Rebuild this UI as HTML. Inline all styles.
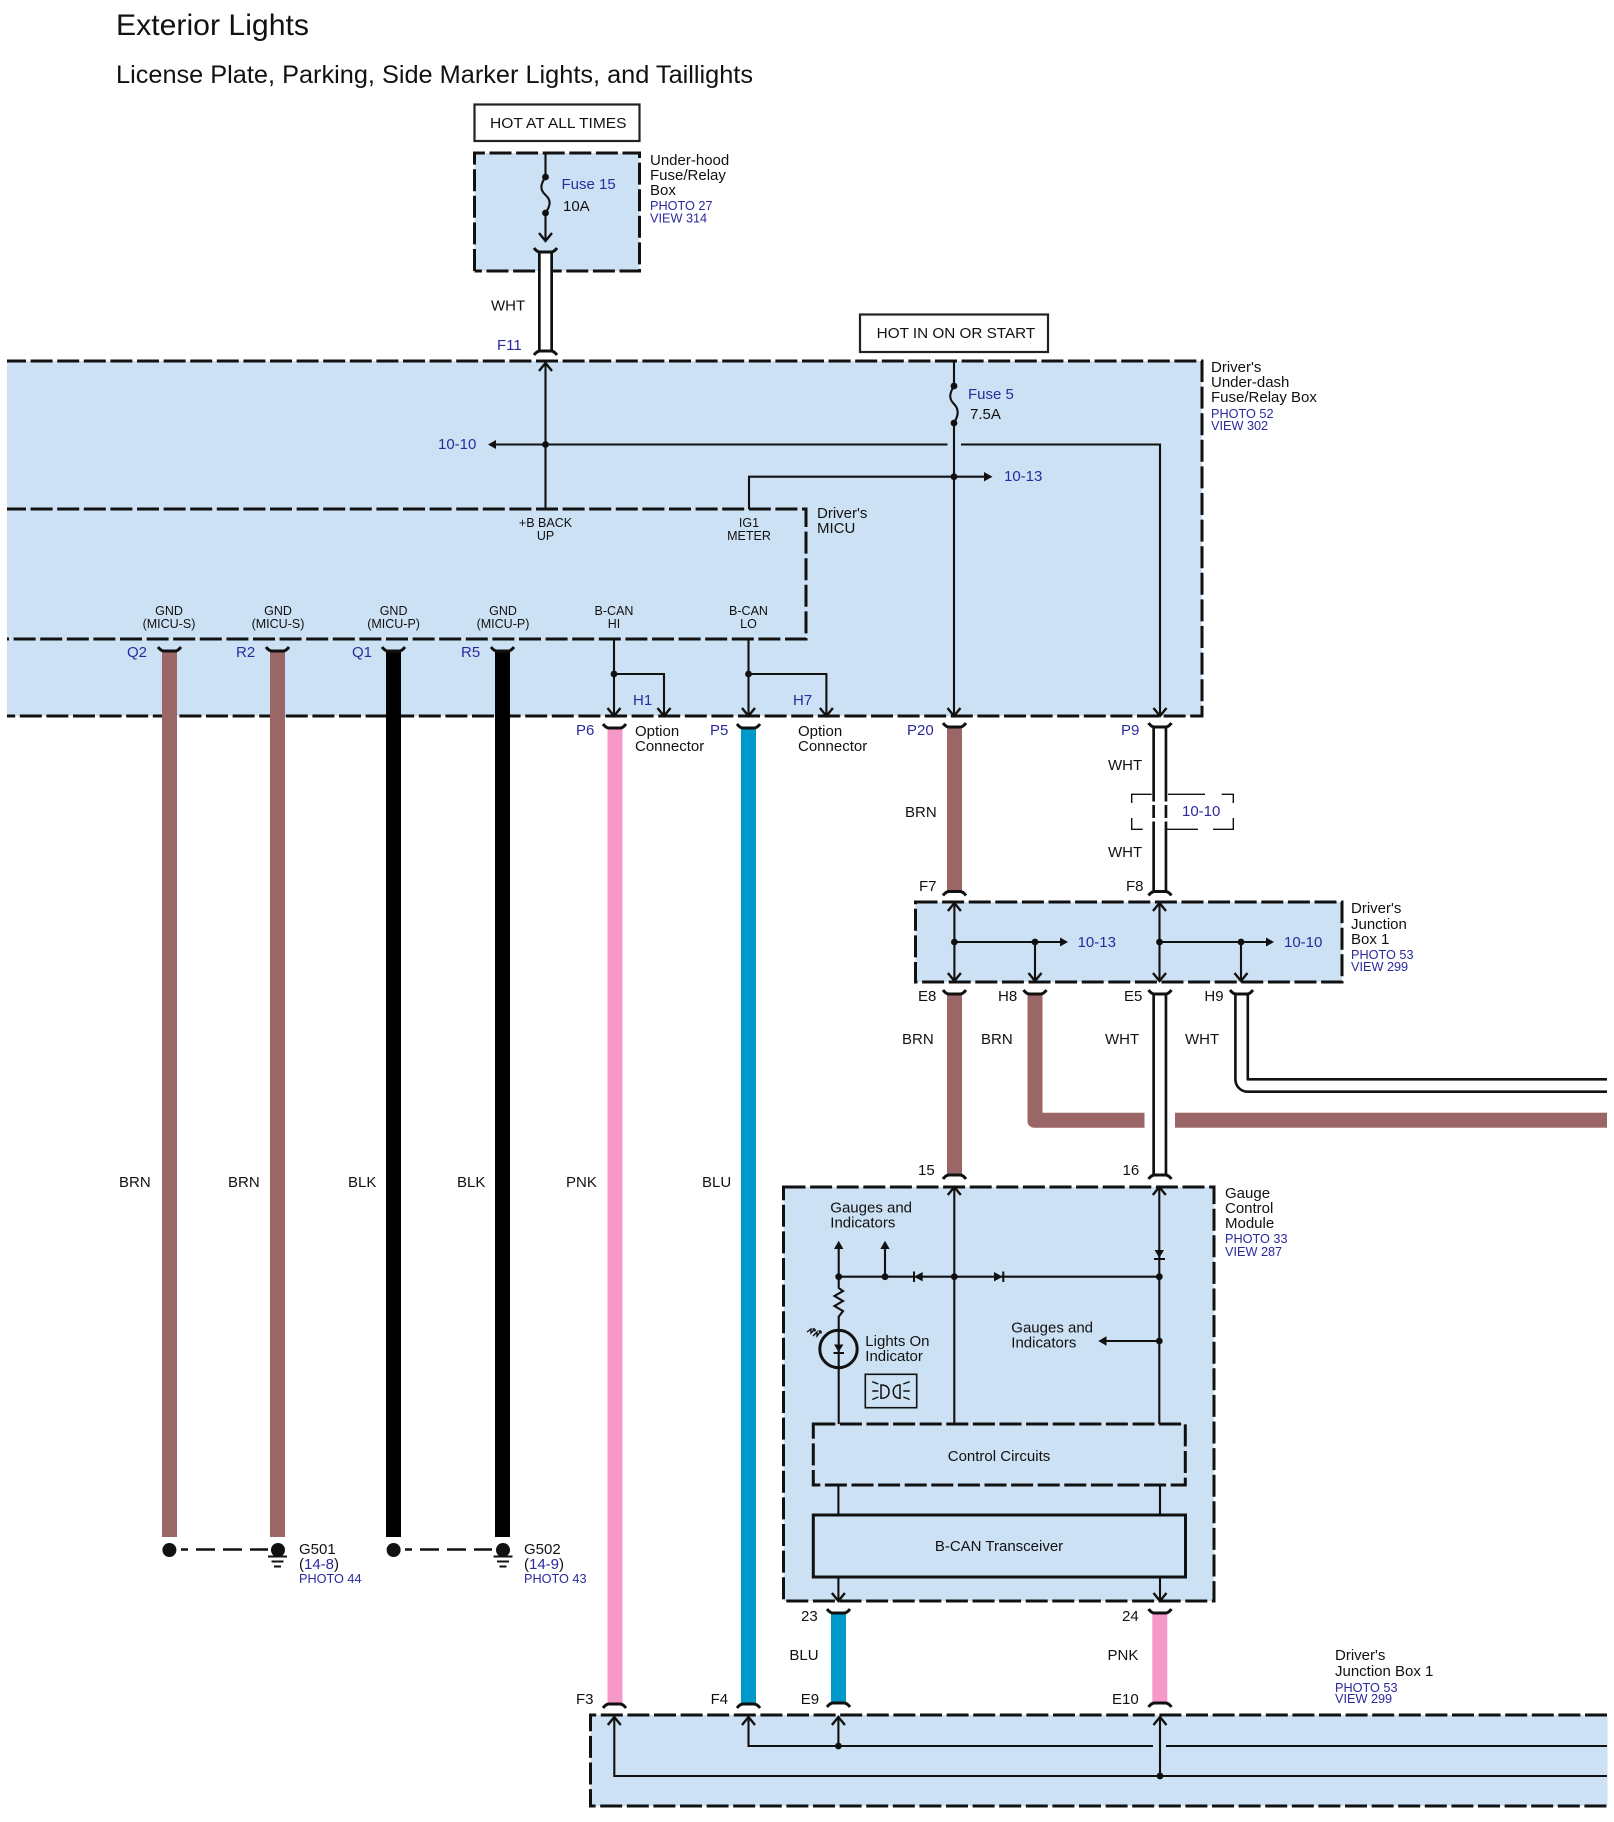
<!DOCTYPE html>
<html><head><meta charset="utf-8"><style>
html,body{margin:0;padding:0;background:#fff}
svg{display:block}
text{font-family:"Liberation Sans",sans-serif;font-size:15px;fill:#111}
.b{fill:#2a2a9c}
.s{font-size:12.5px}
.p{font-size:12.7px;fill:#2a2a9c}
.l{fill:none;stroke:#111;stroke-width:2.1}
.a{fill:none;stroke:#111;stroke-width:2.4}
.d{fill:none;stroke:#111;stroke-width:3;stroke-dasharray:22 4.6}
.c{fill:none;stroke:#111;stroke-width:3}
.f{fill:#111;stroke:none}
.box{fill:#cde1f4;stroke:none}
</style></head><body>
<svg width="1614" height="1822" viewBox="0 0 1614 1822" xmlns="http://www.w3.org/2000/svg">
<rect width="1614" height="1822" fill="#fff"/>
<text x="116" y="35" style="font-size:30px" textLength="193" lengthAdjust="spacingAndGlyphs">Exterior Lights</text>
<text x="116" y="83" style="font-size:25px" textLength="637" lengthAdjust="spacingAndGlyphs">License Plate, Parking, Side Marker Lights, and Taillights</text>

<!-- boxes -->
<rect class="box" x="474.5" y="153" width="165" height="118"/>
<rect class="box" x="7" y="361" width="1195" height="355"/>
<rect class="box" x="915.5" y="902" width="426.5" height="80"/>
<rect class="box" x="783.5" y="1187" width="430.5" height="414"/>
<rect class="box" x="590.5" y="1715" width="1017" height="91"/>

<path class="d" d="M474.5,271V153H639.5V271H474.5"/>
<path class="d" style="stroke-dashoffset:3" d="M7,361H1202V716H7"/>
<path class="d" style="stroke-dashoffset:3" d="M7,509H806V639H7"/>
<path class="d" d="M915.5,902H1342V982H915.5Z"/>
<path class="d" d="M783.5,1187H1214V1601H783.5Z"/>
<path class="d" d="M813.3,1424H1185.3V1485H813.3Z"/>
<path class="d" d="M1607,1715H590.5V1806H1607"/>
<rect x="813.3" y="1515" width="372.2" height="62" fill="#cde1f4" stroke="#111" stroke-width="3"/>

<rect x="474.5" y="104.5" width="165" height="36.5" fill="#fff" stroke="#222" stroke-width="2.2"/>
<rect x="860" y="314.5" width="188" height="37.5" fill="#fff" stroke="#222" stroke-width="2.2"/>
<text x="490" y="128" textLength="136.5" lengthAdjust="spacingAndGlyphs">HOT AT ALL TIMES</text>
<text x="876.7" y="338" textLength="158.5" lengthAdjust="spacingAndGlyphs">HOT IN ON OR START</text>

<!-- thick wires -->
<g fill="#9b6666">
<rect x="162" y="651" width="15" height="886"/>
<rect x="270" y="651" width="15" height="886"/>
<rect x="947" y="727" width="15" height="164"/>
<rect x="947" y="994" width="15" height="181"/>
<path d="M1027.5,994H1042.5V1112.7H1144.5V1127.7H1034a6.5,6.5 0 0 1-6.5-6.5Z"/>
<rect x="1175" y="1112.7" width="432" height="15"/>
</g>
<rect x="386" y="651" width="15" height="886" fill="#000"/>
<rect x="495" y="651" width="15" height="886" fill="#000"/>
<rect x="607.5" y="728" width="15" height="976" fill="#f799c8"/>
<rect x="741" y="728" width="15" height="976" fill="#0099cc"/>
<rect x="831" y="1613" width="15" height="90" fill="#0099cc"/>
<rect x="1152.3" y="1613" width="15" height="90" fill="#f799c8"/>

<!-- white wires -->
<g fill="#111">
<rect x="538" y="252" width="15" height="99"/>
<rect x="1152.3" y="727" width="15" height="164"/>
<rect x="1152.3" y="994" width="15" height="181"/>
</g>
<g fill="#fff">
<rect x="540.7" y="252" width="9.6" height="99"/>
<rect x="1155" y="727" width="9.6" height="164"/>
<rect x="1155" y="994" width="9.6" height="181"/>
<rect x="1150" y="801.5" width="20" height="3.5"/>
<rect x="1150" y="818" width="20" height="3.5"/>
</g>
<path d="M1241.6,994V1079.5a6,6 0 0 0 6,6H1607" fill="none" stroke="#111" stroke-width="15"/>
<path d="M1241.6,994V1079.5a6,6 0 0 0 6,6H1607" fill="none" stroke="#fff" stroke-width="9.8"/>

<!-- connector caps: U -->
<g class="c">
<path class="c" d="M534,248Q537,252 540,252H551Q554,252 557,248"/>
<path class="c" d="M158,647Q161,651 164,651H175Q178,651 181,647"/>
<path class="c" d="M266,647Q269,651 272,651H283Q286,651 289,647"/>
<path class="c" d="M382,647Q385,651 388,651H399Q402,651 405,647"/>
<path class="c" d="M491,647Q494,651 497,651H508Q511,651 514,647"/>
<path class="c" d="M603,724Q606,728 609,728H620Q623,728 626,724"/>
<path class="c" d="M737,724Q740,728 743,728H754Q757,728 760,724"/>
<path class="c" d="M943,723Q946,727 949,727H960Q963,727 966,723"/>
<path class="c" d="M1148.5,723Q1151.5,727 1154.5,727H1165.5Q1168.5,727 1171.5,723"/>
<path class="c" d="M943,990Q946,994 949,994H960Q963,994 966,990"/>
<path class="c" d="M1023.5,990Q1026.5,994 1029.5,994H1040.5Q1043.5,994 1046.5,990"/>
<path class="c" d="M1148.5,990Q1151.5,994 1154.5,994H1165.5Q1168.5,994 1171.5,990"/>
<path class="c" d="M1230,990Q1233,994 1236,994H1247Q1250,994 1253,990"/>
<path class="c" d="M827,1609Q830,1613 833,1613H844Q847,1613 850,1609"/>
<path class="c" d="M1148.5,1609Q1151.5,1613 1154.5,1613H1165.5Q1168.5,1613 1171.5,1609"/>
<!-- caps: inverted -->
<path class="c" d="M534,355Q537,351 540,351H551Q554,351 557,355"/>
<path class="c" d="M943,895.5Q946,891.5 949,891.5H960Q963,891.5 966,895.5"/>
<path class="c" d="M1148.5,895.5Q1151.5,891.5 1154.5,891.5H1165.5Q1168.5,891.5 1171.5,895.5"/>
<path class="c" d="M943,1179Q946,1175 949,1175H960Q963,1175 966,1179"/>
<path class="c" d="M1148.5,1179Q1151.5,1175 1154.5,1175H1165.5Q1168.5,1175 1171.5,1179"/>
<path class="c" d="M827,1707Q830,1703 833,1703H844Q847,1703 850,1707"/>
<path class="c" d="M1148.5,1707Q1151.5,1703 1154.5,1703H1165.5Q1168.5,1703 1171.5,1707"/>
<path class="c" d="M603,1708Q606,1704 609,1704H620Q623,1704 626,1708"/>
<path class="c" d="M737,1708Q740,1704 743,1704H754Q757,1704 760,1708"/>
</g>

<!-- thin wires -->
<g class="l">
<path class="l" d="M545.5,153V177C540,185 540,190 545.5,195C551,200 551,205 545.5,213V241"/>
<path class="l" d="M545.5,363V509"/>
<path class="l" d="M494,444.5H947.5M961,444.5H1160V716"/>
<path class="l" d="M954,361V386C949,394 949,399 954,404C959,409 959,415 954,423V716"/>
<path class="l" d="M749,509V476.7H984"/>
<path class="l" d="M614,639V716M614,674H664V716"/>
<path class="l" d="M748.5,639V716M748.5,674H826.4V716"/>
<path class="l" d="M954.4,903V981M954.4,942H1060M1035,942V981"/>
<path class="l" d="M1159.5,903V981M1159.5,942H1266M1241,942V981"/>
<path class="l" d="M954.3,1187V1424M1159.3,1187V1424"/>
<path class="l" d="M838.7,1246V1288L843,1291L834.5,1296L843,1301L834.5,1306L843,1311L838.7,1316.7V1424"/>
<path class="l" d="M838.7,1276.7H1159.3M885,1246V1276.7"/>
<path class="l" d="M1105,1341H1159.3"/>
<path class="l" d="M838.4,1485V1515M1160,1485V1515M838.4,1577V1601M1160,1577V1601"/>
<path class="l" d="M614.3,1717V1776H1607M748.5,1717V1746H1153M1166,1746H1607M838.4,1717V1746M1160,1717V1776"/>
</g>

<!-- open arrowheads -->
<g class="a">
<path class="a" d="M539,233L545.5,241L552,233"/>
<path class="a" d="M539,371L545.5,363L552,371"/>
<path class="a" d="M607.5,708L614,716L620.5,708M657.5,708L664,716L670.5,708M742,708L748.5,716L755,708M819.9,708L826.4,716L832.9,708M947.5,708L954,716L960.5,708M1153.5,708L1160,716L1166.5,708"/>
<path class="a" d="M947.9,911L954.4,903L960.9,911M1153,911L1159.5,903L1166,911"/>
<path class="a" d="M947.9,973L954.4,981L960.9,973M1028.5,973L1035,981L1041.5,973M1153,973L1159.5,981L1166,973M1234.5,973L1241,981L1247.5,973"/>
<path class="a" d="M947.8,1195L954.3,1187L960.8,1195M1152.8,1195L1159.3,1187L1165.8,1195"/>
<path class="a" d="M831.9,1593L838.4,1601L844.9,1593M1153.5,1593L1160,1601L1166.5,1593"/>
<path class="a" d="M607.8,1725L614.3,1717L620.8,1725M742,1725L748.5,1717L755,1725M831.9,1725L838.4,1717L844.9,1725M1153.5,1725L1160,1717L1166.5,1725"/>
</g>

<!-- filled arrowheads -->
<g class="f">
<path d="M488,444.5L496,440V449Z"/>
<path d="M992.5,476.7L984,472V481.4Z"/>
<path d="M1068,942L1060,937.5V946.5Z"/>
<path d="M1274,942L1266,937.5V946.5Z"/>
<path d="M838.7,1240.7L834,1249H843.4Z"/>
<path d="M885,1240.7L880.3,1249H889.7Z"/>
<path d="M1098.3,1341L1106.5,1336.3V1345.7Z"/>
<!-- diodes -->
<path d="M914,1276.7L922.7,1272V1281.4Z"/>
<path d="M1002.7,1276.7L994,1272V1281.4Z"/>
<path d="M1159.3,1258L1154.6,1250H1164Z"/>
<path d="M838.7,1352L834,1344.5H843.4Z"/>
<!-- dots -->
<circle cx="545.5" cy="177" r="3.4"/><circle cx="545.5" cy="213" r="3.4"/>
<circle cx="545.5" cy="444.5" r="3.4"/>
<circle cx="954" cy="386" r="3.4"/><circle cx="954" cy="423" r="3.4"/><circle cx="954" cy="476.7" r="3.4"/>
<circle cx="614" cy="674" r="3.4"/><circle cx="748.5" cy="674" r="3.4"/>
<circle cx="954.4" cy="942" r="3.4"/><circle cx="1035" cy="942" r="3.4"/><circle cx="1159.5" cy="942" r="3.4"/><circle cx="1241" cy="942" r="3.4"/>
<circle cx="838.7" cy="1276.7" r="3.4"/><circle cx="885" cy="1276.7" r="3.4"/><circle cx="954.3" cy="1276.7" r="3.4"/><circle cx="1159.3" cy="1276.7" r="3.4"/><circle cx="1159.3" cy="1341" r="3.4"/>
<circle cx="838.4" cy="1746" r="3.4"/><circle cx="1160" cy="1776" r="3.4"/>
</g>
<path d="M914,1271.5V1282M1003.3,1271.5V1282M1154,1259H1165M833.5,1353H844" stroke="#111" stroke-width="2" fill="none"/>

<!-- lamp -->
<circle cx="838.5" cy="1349" r="18.7" fill="none" stroke="#111" stroke-width="3"/>
<path d="M807,1332L811,1329L811,1333L815,1329M813,1336L817,1332L817,1336L821,1331M815,1329L812.5,1329M815,1329L815,1331.5M821,1331L818.5,1331M821,1331L821,1333.5" fill="none" stroke="#111" stroke-width="1.4"/>
<rect x="865.3" y="1374.3" width="51.4" height="33.4" fill="none" stroke="#111" stroke-width="1.6"/>
<path d="M881,1385V1398.3C888,1398.3 889,1394 889,1391.6C889,1389 888,1385 881,1385ZM900,1385V1398.3C894.5,1398.3 893.3,1394 893.3,1391.6C893.3,1389 894.5,1385 900,1385Z" fill="none" stroke="#111" stroke-width="1.5"/>
<path d="M872.3,1381.7L878.3,1384M872.3,1391H878.3M872.3,1399.5L878.3,1397M903.3,1384L909.7,1381.7M903.3,1391H909.7M903.3,1397L909.7,1399.5" fill="none" stroke="#111" stroke-width="1.4"/>

<!-- 10-10 bracket -->
<path d="M1151.7,794.3H1131.7V803M1131.7,818V829.3H1142.7M1168,794.3H1205M1221.7,794.3H1233.3V803M1233.3,818V829.3H1213M1198,829.3H1165" fill="none" stroke="#111" stroke-width="1.4"/>

<!-- grounds -->
<g>
<circle cx="169.4" cy="1550" r="9.5" fill="#fff"/><circle cx="278" cy="1550" r="9.5" fill="#fff"/><circle cx="393.6" cy="1550" r="9.5" fill="#fff"/><circle cx="503" cy="1550" r="9.5" fill="#fff"/>
<circle class="f" cx="169.4" cy="1550" r="7"/><circle class="f" cx="278" cy="1550" r="7"/><circle class="f" cx="393.6" cy="1550" r="7"/><circle class="f" cx="503" cy="1550" r="7"/>
</g>
<path d="M181,1549.5H188M196,1549.5H215M223,1549.5H242M250,1549.5H268M405,1549.5H412M420,1549.5H439M447,1549.5H466M474,1549.5H492" stroke="#111" stroke-width="2.6" fill="none"/>
<path d="M268,1556.5H287M271.5,1561.5H283.5M274,1566.5H281M493.5,1556.5H512.5M497,1561.5H509M499.5,1566.5H506.5" stroke="#111" stroke-width="2" fill="none"/>

<!-- labels -->
<text class="b" x="561.5" y="189">Fuse 15</text><text x="563" y="211">10A</text>
<text x="650" y="165">Under-hood</text><text x="650" y="180">Fuse/Relay</text><text x="650" y="195">Box</text>
<text class="p" x="650" y="210">PHOTO 27</text><text class="p" x="650" y="222.7">VIEW 314</text>
<text x="491" y="310.7">WHT</text><text class="b" x="497" y="350">F11</text>
<text class="b" x="438" y="449">10-10</text><text class="b" x="1004" y="481">10-13</text>
<text class="b" x="968" y="399">Fuse 5</text><text x="970" y="419">7.5A</text>
<text x="1211" y="372">Driver's</text><text x="1211" y="387">Under-dash</text><text x="1211" y="402">Fuse/Relay Box</text>
<text class="p" x="1211" y="418">PHOTO 52</text><text class="p" x="1211" y="430">VIEW 302</text>
<text x="817" y="518">Driver's</text><text x="817" y="533">MICU</text>

<g text-anchor="middle">
<text class="s" x="545.5" y="527">+B BACK</text><text class="s" x="545.5" y="540">UP</text>
<text class="s" x="749" y="527">IG1</text><text class="s" x="749" y="540">METER</text>
<text class="s" x="169" y="615">GND</text><text class="s" x="169" y="628">(MICU-S)</text>
<text class="s" x="278" y="615">GND</text><text class="s" x="278" y="628">(MICU-S)</text>
<text class="s" x="393.6" y="615">GND</text><text class="s" x="393.6" y="628">(MICU-P)</text>
<text class="s" x="503" y="615">GND</text><text class="s" x="503" y="628">(MICU-P)</text>
<text class="s" x="614" y="615">B-CAN</text><text class="s" x="614" y="628">HI</text>
<text class="s" x="748.5" y="615">B-CAN</text><text class="s" x="748.5" y="628">LO</text>
<text x="999" y="1461">Control Circuits</text>
<text x="999" y="1551">B-CAN Transceiver</text>
</g>

<g class="b">
<text class="b" x="127" y="657">Q2</text><text class="b" x="236" y="657">R2</text><text class="b" x="352" y="657">Q1</text><text class="b" x="461" y="657">R5</text>
<text class="b" x="633" y="705">H1</text><text class="b" x="793" y="705">H7</text>
<text class="b" x="576" y="735">P6</text><text class="b" x="710" y="735">P5</text>
<text class="b" x="907" y="735">P20</text><text class="b" x="1121" y="735">P9</text>
<text class="b" x="1182" y="816">10-10</text>
<text class="b" x="1077.6" y="947">10-13</text><text class="b" x="1284" y="947">10-10</text>
</g>
<text x="635" y="736">Option</text><text x="635" y="751">Connector</text>
<text x="798" y="736">Option</text><text x="798" y="751">Connector</text>

<text x="1108" y="770">WHT</text><text x="905" y="817">BRN</text><text x="1108" y="857">WHT</text>
<text x="919" y="891">F7</text><text x="1126" y="891">F8</text>
<text x="1351" y="913">Driver's</text><text x="1351" y="929">Junction</text><text x="1351" y="944">Box 1</text>
<text class="p" x="1351" y="959">PHOTO 53</text><text class="p" x="1351" y="971">VIEW 299</text>
<text x="918" y="1001">E8</text><text x="998" y="1001">H8</text><text x="1124" y="1001">E5</text><text x="1204.4" y="1001">H9</text>
<text x="902" y="1044">BRN</text><text x="981" y="1044">BRN</text><text x="1105" y="1044">WHT</text><text x="1185" y="1044">WHT</text>
<text x="918" y="1175">15</text><text x="1122.5" y="1175">16</text>

<text x="1225" y="1198">Gauge</text><text x="1225" y="1213">Control</text><text x="1225" y="1228">Module</text>
<text class="p" x="1225" y="1243">PHOTO 33</text><text class="p" x="1225" y="1256">VIEW 287</text>
<text x="830.3" y="1212.7">Gauges and</text><text x="830.3" y="1227.7">Indicators</text>
<text x="1011.3" y="1332.7">Gauges and</text><text x="1011.3" y="1347.7">Indicators</text>
<text x="865.3" y="1346">Lights On</text><text x="865.3" y="1361">Indicator</text>

<text x="119" y="1187">BRN</text><text x="228" y="1187">BRN</text><text x="348" y="1187">BLK</text><text x="457" y="1187">BLK</text><text x="566" y="1187">PNK</text><text x="702" y="1187">BLU</text>

<text x="299" y="1554">G501</text><text x="299" y="1569">(<tspan class="b">14-8</tspan>)</text><text class="p" x="299" y="1583">PHOTO 44</text>
<text x="524" y="1554">G502</text><text x="524" y="1569">(<tspan class="b">14-9</tspan>)</text><text class="p" x="524" y="1583">PHOTO 43</text>

<text x="801" y="1621">23</text><text x="1122" y="1621">24</text>
<text x="789.4" y="1660">BLU</text><text x="1107.5" y="1660">PNK</text>
<text x="800.7" y="1704">E9</text><text x="1112" y="1704">E10</text>
<text x="576" y="1704">F3</text><text x="710.6" y="1704">F4</text>
<text x="1335" y="1660">Driver's</text><text x="1335" y="1676">Junction Box 1</text>
<text class="p" x="1335" y="1692">PHOTO 53</text><text class="p" x="1335" y="1703">VIEW 299</text>
</svg>
</body></html>
